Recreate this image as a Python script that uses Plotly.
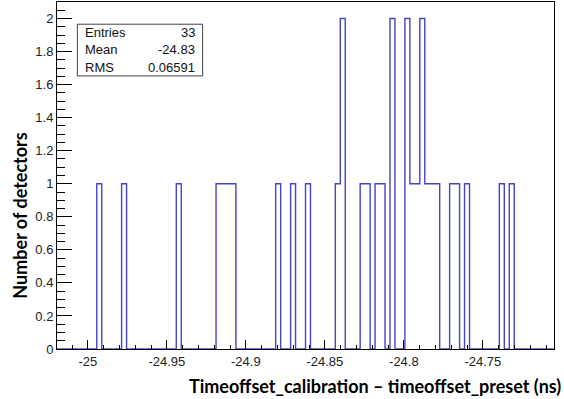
import plotly.graph_objects as go

# Histogram definition (ROOT-style TH1, 100 bins)
N_BINS = 100
X_LO = -25.0195
X_HI = -24.705

# Non-empty bins (bin index) and their counts
bin_index = [8, 13, 24, 32, 33, 34, 35, 44, 47, 50, 56, 57, 61, 62, 64, 65,
             67, 70, 71, 72, 73, 74, 75, 76, 79, 80, 82, 89, 91]
bin_count = [1, 1, 1, 1, 1, 1, 1, 1, 1, 1, 1, 2, 1, 1, 1, 1,
             2, 2, 1, 1, 2, 1, 1, 1, 1, 1, 1, 1, 1]

# Stats box
stat_names = ["Entries", "Mean", "RMS"]
stat_values = ["33", "-24.83", "0.06591"]

x_tick_vals = [-25, -24.95, -24.9, -24.85, -24.8, -24.75]
x_tick_text = ["-25", "-24.95", "-24.9", "-24.85", "-24.8", "-24.75"]
y_tick_vals = [0, 0.2, 0.4, 0.6, 0.8, 1, 1.2, 1.4, 1.6, 1.8, 2]
y_tick_text = ["0", "0.2", "0.4", "0.6", "0.8", "1", "1.2", "1.4", "1.6", "1.8", "2"]

x_title = "Timeoffset_calibration \u2013 timeoffset_preset (ns)"
y_title = "Number of detectors"

# Build the step outline
width = (X_HI - X_LO) / N_BINS
counts = [0] * N_BINS
for i, c in zip(bin_index, bin_count):
    counts[i] = c
edges = [X_LO + width * i for i in range(N_BINS + 1)]
ys = counts + [counts[-1]]

fig = go.Figure()
fig.add_trace(go.Scatter(
    x=edges, y=ys, mode="lines", line=dict(shape="hv", color="#4545c8", width=1.4),
    hoverinfo="skip", showlegend=False))

tick_font = dict(family="Liberation Sans, Arial, sans-serif", size=13, color="#222")
title_font = dict(family="Lato, sans-serif", size=18, color="black")

fig.update_layout(
    width=564, height=399,
    margin=dict(l=57, r=10, t=2, b=50),
    paper_bgcolor="white", plot_bgcolor="white",
    showlegend=False,
    xaxis=dict(
        range=[X_LO, X_HI], showgrid=False, zeroline=False,
        showline=True, linecolor="black", linewidth=1, mirror=True,
        ticks="inside", ticklen=9, tickcolor="black", tickwidth=1,
        tickvals=x_tick_vals, ticktext=x_tick_text, tickfont=tick_font,
        minor=dict(ticks="inside", ticklen=4, dtick=0.01, tick0=-25, tickcolor="black", showgrid=False),
    ),
    yaxis=dict(
        range=[0, 2.1], showgrid=False, zeroline=False,
        showline=True, linecolor="black", linewidth=1, mirror=True,
        ticks="inside", ticklen=15, tickcolor="black", tickwidth=1,
        tickvals=y_tick_vals, ticktext=y_tick_text, tickfont=tick_font,
        minor=dict(ticks="inside", ticklen=8, dtick=0.05, tick0=0, tickcolor="black", showgrid=False),
    ),
)

# Stats box
fig.add_shape(type="rect", xref="paper", yref="paper",
              x0=0.041, x1=0.293, y0=0.787, y1=0.936,
              line=dict(color="#444", width=1), fillcolor="white", layer="above")
stat_y = [0.913, 0.862, 0.810]
for name, val, yy in zip(stat_names, stat_values, stat_y):
    fig.add_annotation(xref="paper", yref="paper", x=0.053, y=yy, text=name,
                       showarrow=False, xanchor="left", yanchor="middle",
                       font=dict(family="Liberation Sans, Arial, sans-serif", size=13, color="#111"))
    fig.add_annotation(xref="paper", yref="paper", x=0.282, y=yy, text=val,
                       showarrow=False, xanchor="right", yanchor="middle",
                       font=dict(family="Liberation Sans, Arial, sans-serif", size=13, color="#111"))

# Axis titles
fig.add_annotation(xref="paper", yref="paper", x=1.018, y=-0.107, text="<b>" + x_title + "</b>",
                   showarrow=False, xanchor="right", yanchor="middle", font=title_font)
fig.add_annotation(xref="paper", yref="paper", x=-0.074, y=0.385, text="<b>" + y_title + "</b>",
                   showarrow=False, textangle=-90, xanchor="center", yanchor="middle", font=title_font)

fig.write_html("out.html", config={"displayModeBar": False},
               post_script="document.body.style.margin='0';document.body.style.overflow='hidden';")
